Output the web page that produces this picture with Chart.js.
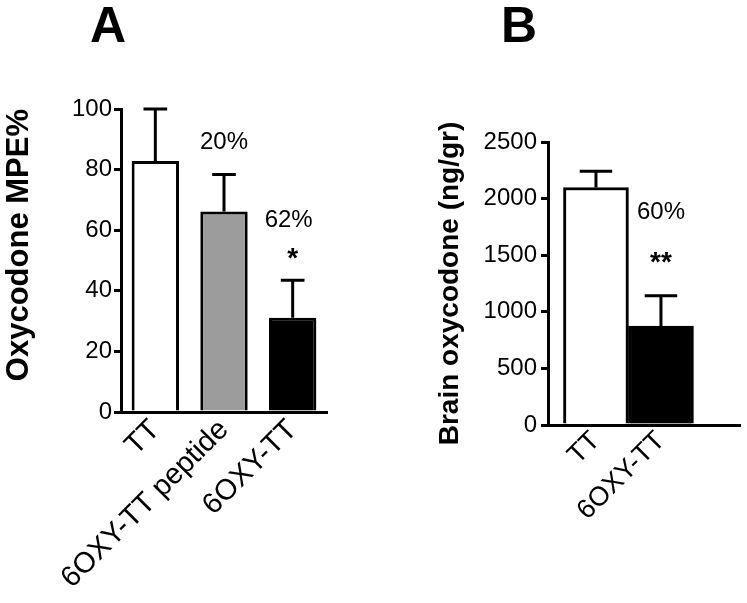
<!DOCTYPE html>
<html>
<head>
<meta charset="utf-8">
<script src="https://cdn.jsdelivr.net/npm/chart.js@4.4.1/dist/chart.umd.min.js"></script>
<style>
body { margin: 0; background: #fff; width: 747px; height: 603px; position: relative; overflow: hidden; }
.panel { position: absolute; top: 0; }
.letter { position: absolute; top: 0; width: 100px; text-align: center; font: bold 50px/50px "Liberation Sans", Arial, sans-serif; color: #000; }
</style>
</head>
<body>
<div class="letter" style="left:58px">A</div>
<div class="letter" style="left:469px">B</div>
<canvas id="chartA" class="panel" style="left:0px" width="340" height="603"></canvas>
<canvas id="chartB" class="panel" style="left:420px" width="327" height="603"></canvas>
<script>
// panel A - analgesia
const labelsA = ['TT', '6OXY-TT peptide', '6OXY-TT']
const valuesA = [82.8, 66.2, 31.1]
const errorsA = [17.2, 12.2, 12.4]
const percentA = ['', '20%', '62%']
const starsA = ['', '', '*']
const ticksA = [0, 20, 40, 60, 80, 100]

// panel B - brain levels
const labelsB = ['TT', '6OXY-TT']
const valuesB = [2098, 874]
const errorsB = [144, 267]
const percentB = ['', '60%']
const starsB = ['', '**']
const ticksB = [0, 500, 1000, 1500, 2000, 2500]

const FONT = '"Liberation Sans", Arial, sans-serif'
Chart.defaults.font.family = FONT
Chart.defaults.color = '#000'

// upper whisker + cap, then the % and star notes above it
const errorBars = {
    id: 'errorBars',
    afterDatasetsDraw(chart, args, opts){
        const ctx = chart.ctx
        const meta = chart.getDatasetMeta(0)
        const yScale = chart.scales.y
        ctx.save()
        ctx.strokeStyle = '#000'
        ctx.lineWidth = 3
        meta.data.forEach(function(bar, i){
            const top = yScale.getPixelForValue(opts.values[i] + opts.errors[i])
            const half = bar.width / 4
            ctx.beginPath()
            ctx.moveTo(bar.x, bar.y)
            ctx.lineTo(bar.x, top - 1.5)
            ctx.moveTo(bar.x - half, top)
            ctx.lineTo(bar.x + half, top)
            ctx.stroke()

            ctx.fillStyle = '#000'
            ctx.textAlign = 'center'
            ctx.textBaseline = 'middle'
            if(opts.stars[i]){
                ctx.font = 'bold 28px ' + FONT
                ctx.fillText(opts.stars[i], bar.x, top - opts.starGap + 6)
            }
            if(opts.percent[i]){
                ctx.font = '24px ' + FONT
                const gap = opts.stars[i] ? opts.pctGapStar : opts.pctGap
                ctx.fillText(opts.percent[i], bar.x + (opts.stars[i] ? opts.pctDx : 0), top - gap)
            }
        })
        ctx.restore()
    }
}

function yAxis(min, max, ticks, title, titleSize, titleAlign, titlePad, tickPad, width){
    return {
        min: min,
        max: max,
        afterBuildTicks(s){ s.ticks = ticks.map(v => ({value: v})) },
        afterFit(s){ s.width = width },
        ticks: { color: '#000', font: { size: 24 }, padding: tickPad, callback: (v) => String(v) },
        grid: { drawOnChartArea: false, color: '#000', lineWidth: 3, tickLength: 7, tickWidth: 3 },
        border: { color: '#000', width: 3 },
        title: { display: true, text: title, color: '#000', align: titleAlign,
            font: { size: titleSize, weight: 'bold', lineHeight: 1.2 }, padding: titlePad }
    }
}

new Chart(document.getElementById('chartA'), {
    type: 'bar',
    data: {
        labels: labelsA,
        datasets: [{
            data: valuesA,
            backgroundColor: ['#ffffff', '#9c9c9c', '#000000'],
            borderColor: '#000',
            borderWidth: 3,
            barPercentage: 0.69,
            categoryPercentage: 1
        }]
    },
    options: {
        responsive: false,
        animation: false,
        layout: { padding: { left: 0, top: 109, right: 13, bottom: 0 } },
        plugins: {
            legend: { display: false },
            tooltip: { enabled: false },
            errorBars: { values: valuesA, errors: errorsA, percent: percentA, stars: starsA, pctGap: 32, pctGapStar: 60, starGap: 27, pctDx: -4 }
        },
        scales: {
            x: {
                grid: { display: false, drawTicks: false },
                border: { color: '#000', width: 3 },
                ticks: { color: '#000', font: { size: 29 }, minRotation: 45, maxRotation: 45, autoSkip: false, padding: 1 },
                afterFit(s){ s.height = 191 }
            },
            y: yAxis(0, 100, ticksA, 'Oxycodone MPE%', 31, 'end', { top: 1, bottom: 32 }, 2, 121)
        }
    },
    plugins: [errorBars]
})

new Chart(document.getElementById('chartB'), {
    type: 'bar',
    data: {
        datasets: [{
            data: valuesB.map((v, i) => ({ x: i + 1, y: v })),
            backgroundColor: ['#ffffff', '#000000'],
            borderColor: '#000',
            borderWidth: 3,
            barPercentage: 1,
            categoryPercentage: 1
        }]
    },
    options: {
        responsive: false,
        animation: false,
        layout: { padding: { left: 0, top: 142, right: 7, bottom: 0 } },
        plugins: {
            legend: { display: false },
            tooltip: { enabled: false },
            errorBars: { values: valuesB, errors: errorsB, percent: percentB, stars: starsB, pctGap: 40, pctGapStar: 83, starGap: 39, pctDx: 0 }
        },
        scales: {
            x: {
                type: 'linear',
                offset: false,
                bounds: 'data',
                min: 0.262,
                max: 3.216,
                afterBuildTicks(s){ s.ticks = labelsB.map((l, i) => ({ value: i + 1 })) },
                grid: { display: false, drawTicks: false, offset: false },
                border: { color: '#000', width: 3 },
                ticks: { color: '#000', font: { size: 27 }, minRotation: 45, maxRotation: 45, autoSkip: false, padding: 0,
                    callback: (v) => labelsB[v - 1] },
                afterFit(s){ s.height = 178 }
            },
            y: yAxis(0, 2500, ticksB, 'Brain oxycodone (ng/gr)', 28, 'center', { top: 13, bottom: 15 }, 4, 128)
        }
    },
    plugins: [errorBars]
})
</script>
</body>
</html>
